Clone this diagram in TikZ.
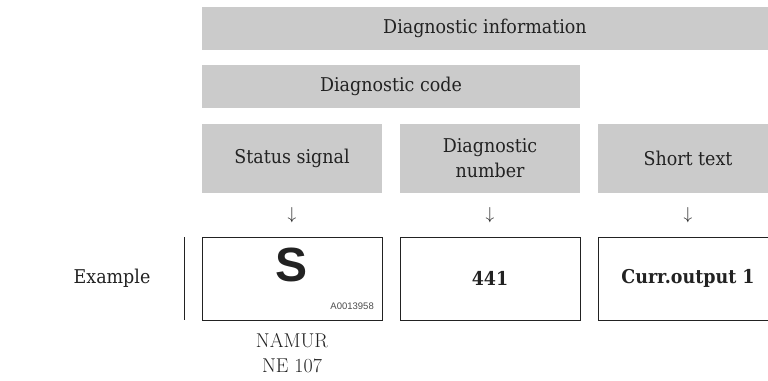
\documentclass[tikz,border=0pt]{standalone}
\usepackage{fontspec}
\setmainfont{DejaVu Serif}[FakeStretch=0.92]
\newfontfamily\lmfont{Latin Modern Roman}
\newfontfamily\arialfont{Liberation Sans}
\definecolor{barfill}{HTML}{CBCBCB}
\definecolor{ink}{HTML}{222222}
\begin{document}
\begin{tikzpicture}[x=1pt,y=-1pt,
  bar/.style={fill=barfill,draw=none,inner sep=0pt},
  ebox/.style={draw=ink,line width=1pt,fill=white,inner sep=0pt},
  lbl/.style={font=\fontsize{19}{25}\selectfont,align=center,inner sep=0pt,text=ink},
  blbl/.style={font=\fontsize{19}{25}\selectfont\bfseries,inner sep=0pt,text=ink},
  arr/.style={font=\fontsize{19}{25}\selectfont,inner sep=0pt,text=ink}]
\useasboundingbox (0,0) rectangle (768,380);
\begin{scope}
\clip (0,0) rectangle (768,380);
% bars
\path[bar] (202,7) rectangle (790,50);
\node[lbl] (info) at (485,28.5) {Diagnostic information};
\path[bar] (202,65) rectangle (580,108);
\node[lbl] (code) at (391,86.5) {Diagnostic code};
\path[bar] (202,124) rectangle (382,193);
\path[bar] (400,124) rectangle (580,193);
\path[bar] (598,124) rectangle (778,193);
\node[lbl] (status) at (292,158.5) {Status signal};
\node[lbl] (number) at (490,158.5) {Diagnostic\\number};
\node[lbl] (short) at (688,158.5) {Short text};
% arrows
\node[arr] (a1) at (292,215) {$\downarrow$};
\node[arr] (a2) at (490,215) {$\downarrow$};
\node[arr] (a3) at (688,215) {$\downarrow$};
% boxes
\draw[ebox] (202,237) rectangle (382,320);
\draw[ebox] (400,237) rectangle (580,320);
\draw[ebox] (598,237) rectangle (778,320);
\end{scope}
\node[inner sep=0pt,text=ink,font=\arialfont\bfseries\fontsize{48}{48}\selectfont] (s) at (292,265) {S};
\node[inner sep=0pt,font=\arialfont\fontsize{9.5}{11}\selectfont,text=black!70,anchor=east] (id) at (374,306) {A0013958};
\node[blbl] (n441) at (490,278.5) {441};
\node[blbl] (curr) at (688,278.5) {Curr.output 1};
\draw[line width=1pt,draw=ink] (184,237) -- (184,320);
\node[lbl] (ex) at (112,278.5) {Example};
\node[inner sep=0pt,align=center,text=ink,font=\lmfont\fontsize{20}{25}\selectfont] (namur) at (292,353) {NAMUR\\NE 107};
\end{tikzpicture}
\end{document}
